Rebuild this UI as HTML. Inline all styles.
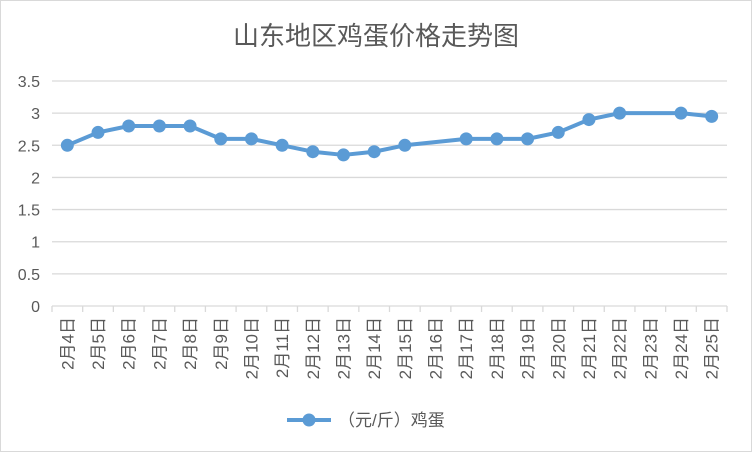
<!DOCTYPE html>
<html><head><meta charset="utf-8"><style>
body{margin:0;background:#fff;}
svg text{font-family:"Liberation Sans","Noto Sans CJK SC",sans-serif;}
</style></head><body>
<svg width="752" height="452">
<rect x="0.5" y="0.5" width="751" height="451" fill="#fff" stroke="#d9d9d9"/>
<text x="376" y="45" text-anchor="middle" font-size="26" fill="#595959">山东地区鸡蛋价格走势图</text>
<g id="grid"></g><g id="xaxis"></g><g id="series"></g>
<g>
<line x1="287" y1="420" x2="331" y2="420" stroke="#5b9bd5" stroke-width="4"/>
<circle cx="309" cy="420" r="6.5" fill="#5b9bd5"/>
<text x="338" y="426" font-size="17" fill="#595959">（元/斤）鸡蛋</text>
</g>
</svg>
<script>
const categories=["2月4日","2月5日","2月6日","2月7日","2月8日","2月9日","2月10日","2月11日","2月12日","2月13日","2月14日","2月15日","2月16日","2月17日","2月18日","2月19日","2月20日","2月21日","2月22日","2月23日","2月24日","2月25日"];
const values=[2.5,2.7,2.8,2.8,2.8,2.6,2.6,2.5,2.4,2.35,2.4,2.5,null,2.6,2.6,2.6,2.7,2.9,3.0,null,3.0,2.95];
const yTicks=[0,0.5,1,1.5,2,2.5,3,3.5];
const NS="http://www.w3.org/2000/svg";
const x0=52,x1=727,y0=306,yTop=81,yMax=3.5;
const step=(x1-x0)/categories.length;
const xs=i=>x0+step*(i+0.5);
const ys=v=>y0-(v/yMax)*(y0-yTop);
function mk(t,a,p){const e=document.createElementNS(NS,t);for(const k in a)e.setAttribute(k,a[k]);p.appendChild(e);return e;}
const grid=document.getElementById('grid');
yTicks.forEach(t=>{
 const l=mk('line',{x1:x0,x2:x1,y1:ys(t),y2:ys(t),stroke:'#d9d9d9','stroke-width':1.3},grid);
 
 
 const tx=mk('text',{x:40,y:ys(t)+6,'text-anchor':'end','font-size':16,fill:'#595959'},grid);
 tx.textContent=t;
 
 
});
const xa=document.getElementById('xaxis');
for(let i=0;i<=categories.length;i++){
 const t=mk('line',{x1:x0+step*i,x2:x0+step*i,y1:y0,y2:y0+6,stroke:'#d9d9d9','stroke-width':1.3},xa);
 
 
}
categories.forEach((c,i)=>{
 const t=mk('text',{x:0,y:0,'text-anchor':'end','font-size':17,fill:'#595959',transform:`translate(${xs(i)+6},317) rotate(-90)`},xa);
 t.textContent=c;
 
 
});
const s=document.getElementById('series');
const pts=[];values.forEach((v,i)=>{if(v!==null)pts.push([xs(i),ys(v)]);});
const pl=mk('polyline',{points:pts.map(p=>p.join(',')).join(' '),fill:'none',stroke:'#5b9bd5','stroke-width':4,'stroke-linejoin':'round'},s);


values.forEach((v,i)=>{if(v===null)return;
 const c=mk('circle',{cx:xs(i),cy:ys(v),r:6.5,fill:'#5b9bd5'},s);
 
 
});
</script>
</body></html>
